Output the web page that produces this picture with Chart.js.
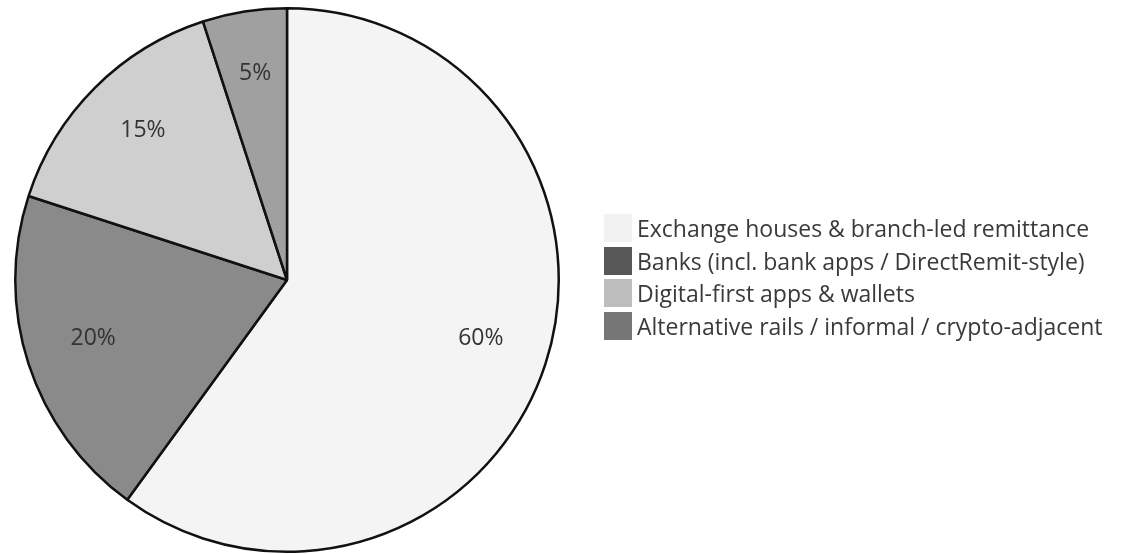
<!DOCTYPE html>
<html>
<head>
<meta charset="utf-8">
<script src="https://cdn.jsdelivr.net/npm/chart.js@4/dist/chart.umd.min.js"></script>
<style>
  html, body { margin: 0; padding: 0; background: #fff; }
  #wrap { position: relative; width: 1133px; height: 554px; }
  #legend {
    position: absolute; left: 604px; top: 212px;
    font-family: "Open Sans", "Noto Sans", sans-serif; font-size: 23px; color: #3a3a3a;
  }
  .row { display: flex; align-items: center; height: 32.5px; white-space: nowrap; }
  .box { width: 28px; height: 28px; margin-right: 5px; flex: none; }
</style>
</head>
<body>
<div id="wrap">
  <canvas id="pie" width="1133" height="554"></canvas>
  <div id="legend"></div>
</div>
<script>
const categories = [
  'Exchange houses & branch-led remittance',
  'Banks (incl. bank apps / DirectRemit-style)',
  'Digital-first apps & wallets',
  'Alternative rails / informal / crypto-adjacent'
];
const shares = [60, 20, 15, 5];
const sliceColors = ['#f4f4f4', '#8a8a8a', '#cfcfcf', '#a0a0a0'];
const legendColors = ['#f2f2f2', '#575757', '#bdbdbd', '#767676'];

// legend drawn as html next to the pie
const legendEl = document.getElementById('legend');
categories.forEach((name, i) => {
  const row = document.createElement('div');
  row.className = 'row';
  const box = document.createElement('span');
  box.className = 'box';
  box.style.background = legendColors[i];
  row.appendChild(box);
  row.appendChild(document.createTextNode(name));
  legendEl.appendChild(row);
});

// percent text inside each slice
const sliceLabels = {
  id: 'sliceLabels',
  afterDatasetsDraw(chart) {
    const ctx = chart.ctx;
    const meta = chart.getDatasetMeta(0);
    ctx.save();
    ctx.font = '23px "Open Sans", "Noto Sans", sans-serif';
    ctx.fillStyle = '#333';
    ctx.textAlign = 'center';
    ctx.textBaseline = 'middle';
    meta.data.forEach((arc, i) => {
      const p = arc.getProps(['x', 'y', 'startAngle', 'endAngle', 'outerRadius'], true);
      const mid = (p.startAngle + p.endAngle) / 2;
      const r = p.outerRadius * 0.75;
      ctx.fillText(shares[i] + '%', p.x + Math.cos(mid) * r, p.y + Math.sin(mid) * r - 5);
    });
    ctx.restore();
  }
};

new Chart(document.getElementById('pie'), {
  type: 'pie',
  data: {
    labels: categories,
    datasets: [{
      data: shares,
      backgroundColor: sliceColors,
      borderColor: '#111',
      borderWidth: 2.5
    }]
  },
  options: {
    responsive: false,
    animation: false,
    layout: { padding: { top: 7, bottom: 1, left: 0, right: 559 } },
    plugins: {
      legend: { display: false },
      tooltip: { enabled: false }
    }
  },
  plugins: [sliceLabels]
});
</script>
</body>
</html>
